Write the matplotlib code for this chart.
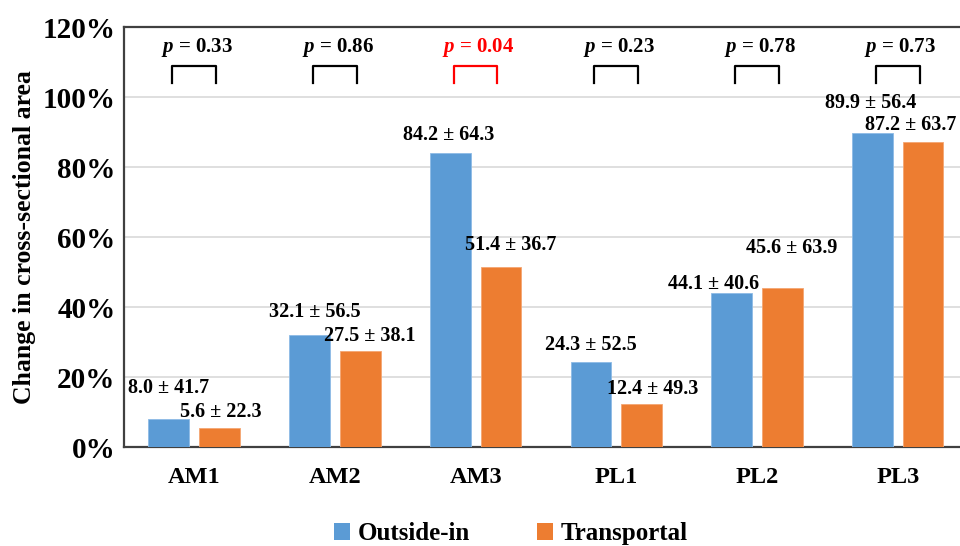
import matplotlib
matplotlib.use('Agg')
import matplotlib.pyplot as plt
from matplotlib.patches import Patch
import numpy as np

# data
categories = ['AM1', 'AM2', 'AM3', 'PL1', 'PL2', 'PL3']
outside_mean = [8.0, 32.1, 84.2, 24.3, 44.1, 89.9]
outside_sd = [41.7, 56.5, 64.3, 52.5, 40.6, 56.4]
trans_mean = [5.6, 27.5, 51.4, 12.4, 45.6, 87.2]
trans_sd = [22.3, 38.1, 36.7, 49.3, 63.9, 63.7]
p_values = ['0.33', '0.86', '0.04', '0.23', '0.78', '0.73']

# label placement (x offset from group centre, y in axis units)
out_lab_dx = [-0.18, -0.14, -0.19, -0.18, -0.31, -0.19]
out_lab_y = [16.9, 38.6, 89.1, 29.1, 46.6, 98.3]
tr_lab_dx = [0.19, 0.25, 0.25, 0.26, 0.25, 0.09]
tr_lab_y = [10.0, 31.7, 57.7, 16.6, 56.9, 92.0]

blue = '#5B9BD5'
orange = '#ED7D31'

plt.rcParams['font.family'] = ['Liberation Serif', 'DejaVu Serif']
plt.rcParams['font.weight'] = 'bold'
plt.rcParams['mathtext.fontset'] = 'custom'
plt.rcParams['mathtext.it'] = 'Liberation Serif:italic:bold'
plt.rcParams['mathtext.rm'] = 'Liberation Serif:bold'

fig = plt.figure(figsize=(9.6, 5.46), dpi=100)
ax = fig.add_axes([0.129, 0.181, 0.875, 0.769])

x = np.arange(len(categories))
w = 0.29
off = 0.18
ax.bar(x - off, outside_mean, w, color=blue, edgecolor='#8DBBE6', linewidth=0.6, zorder=3)
ax.bar(x + off, trans_mean, w, color=orange, edgecolor='#F4A673', linewidth=0.6, zorder=3)

for i in range(len(categories)):
    ax.text(x[i] + out_lab_dx[i], out_lab_y[i], f'{outside_mean[i]:.1f} ± {outside_sd[i]:.1f}',
            ha='center', va='center', fontsize=14.5, fontweight='bold', zorder=4)
    ax.text(x[i] + tr_lab_dx[i], tr_lab_y[i], f'{trans_mean[i]:.1f} ± {trans_sd[i]:.1f}',
            ha='center', va='center', fontsize=14.5, fontweight='bold', zorder=4)

    # p-value brackets
    col = 'red' if float(p_values[i]) < 0.05 else 'black'
    hw = 0.155
    ax.plot([x[i] - hw, x[i] - hw, x[i] + hw, x[i] + hw], [104, 109, 109, 104],
            color=col, lw=1.6, zorder=4, clip_on=False)
    ax.text(x[i] + 0.02, 114.3, f'$p$ = {p_values[i]}', color=col,
            ha='center', va='center', fontsize=15, fontweight='bold')

ax.set_xlim(-0.5, 5.47)
ax.set_ylim(0, 120)
ax.set_yticks(np.arange(0, 121, 20))
ax.set_yticklabels([f'{v}%' for v in range(0, 121, 20)], fontsize=21, fontweight='bold')
ax.set_xticks(x)
ax.set_xticklabels(categories, fontsize=17.5, fontweight='bold')
ax.tick_params(axis='both', length=0)
ax.tick_params(axis='y', pad=6)
ax.tick_params(axis='x', pad=14)
ax.yaxis.grid(True, color='#D9D9D9', lw=1.2, zorder=0)
ax.set_axisbelow(True)

for s in ['left', 'bottom', 'top']:
    ax.spines[s].set_color('#404040')
    ax.spines[s].set_linewidth(1.6)
ax.spines['right'].set_visible(False)

ax.set_ylabel('Change in cross-sectional area', fontsize=18.5, fontweight='bold', labelpad=5)

handles = [Patch(facecolor=blue, label='Outside-in'), Patch(facecolor=orange, label='Transportal')]
fig.legend(handles=handles, loc='center', bbox_to_anchor=(0.532, 0.022), ncol=2, frameon=False,
           handlelength=0.65, handleheight=0.65, handletextpad=0.3, columnspacing=2.7,
           prop={'size': 18, 'weight': 'bold'})

fig.savefig('out.png', dpi=100)
